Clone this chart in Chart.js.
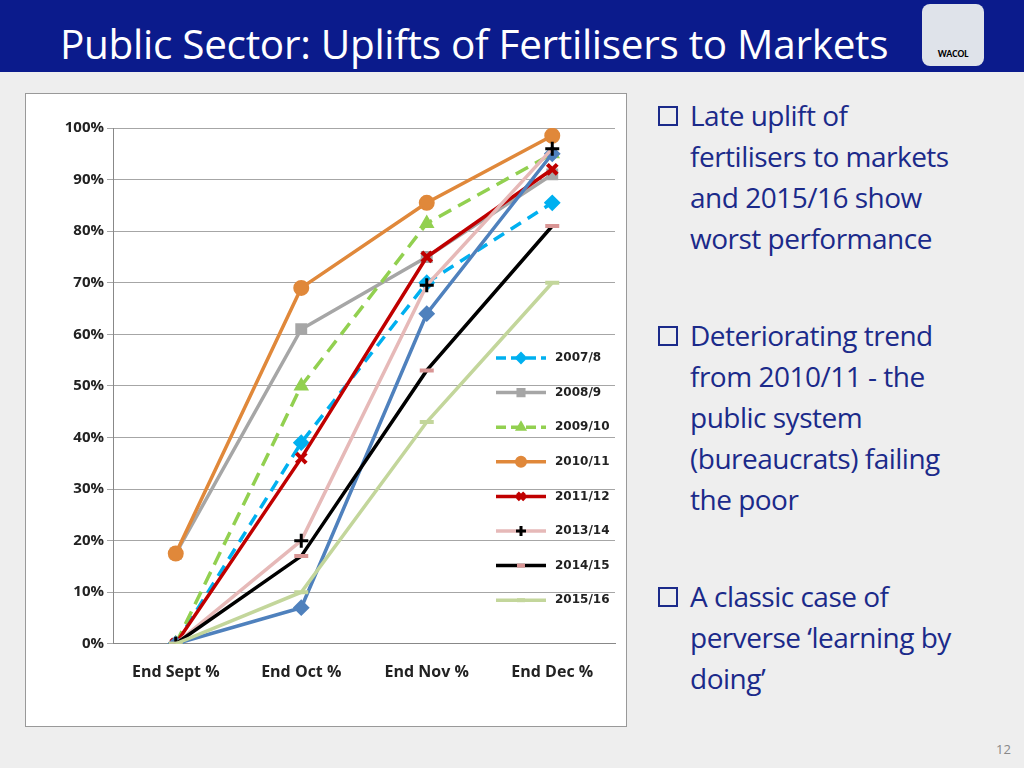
<!DOCTYPE html>
<html><head><meta charset="utf-8">
<script src="https://cdn.jsdelivr.net/npm/chart.js@4/dist/chart.umd.min.js"></script>
<style>
body{margin:0;width:1024px;height:768px;background:#eeeeee;font-family:Calibri,"Liberation Sans Narrow","Open Sans",sans-serif;overflow:hidden;position:relative}
#hdr{position:absolute;left:0;top:0;width:1024px;height:72px;background:#0b1b8c}
#hdr h1{margin:0;position:absolute;left:60px;top:16px;color:#fff;font-weight:normal;font-size:40.5px;font-family:"Open Sans",sans-serif;letter-spacing:-0.3px}
#logo{position:absolute;left:922px;top:4px;width:62px;height:62px;background:#dfe3ea;border-radius:8px;color:#000;font-size:10px;text-align:center;line-height:100px;font-weight:bold}
#box{position:absolute;left:25px;top:93px;width:600px;height:632px;background:#fff;border:1px solid #999}
#txt{position:absolute;left:655px;top:95px;width:365px;color:#1b2a8a;font-family:"Open Sans",sans-serif;font-size:28px;line-height:41px;letter-spacing:-0.5px;white-space:nowrap}
#txt p{margin:0 0 56px 0;padding-left:35px;position:relative}
#txt p:before{content:"";position:absolute;left:3px;top:11px;width:16px;height:16px;border:2px solid #1b2a8a}
#pg{position:absolute;left:996px;top:740px;color:#888;font-size:13px;font-family:"Open Sans",sans-serif}
</style></head><body>
<div id="hdr"><h1>Public Sector: Uplifts of Fertilisers to Markets</h1><div id="logo">WACOL</div></div>
<div id="box"><canvas id="c" width="600" height="632"></canvas></div>
<div id="txt">
<p>Late uplift of<br>fertilisers to markets<br>and 2015/16 show<br>worst performance</p>
<p>Deteriorating trend<br>from 2010/11 - the<br>public system<br>(bureaucrats) failing<br>the poor</p>
<p>A classic case of<br>perverse ‘learning by<br>doing’</p>
</div>
<div id="pg">12</div>
<script>
const categories = ["End Sept %", "End Oct %", "End Nov %", "End Dec %"]
const yTicks = [0, 10, 20, 30, 40, 50, 60, 70, 80, 90, 100]
const s2007 = [0, 39, 70, 85.5]
const s2008 = [17.5, 61, 75, 91]
const s2009 = [0, 50, 81.5, 95]
const s2010 = [17.5, 69, 85.5, 98.5]
const s2011 = [0, 36, 75, 92]
const s2012 = [0, 7, 64, 95]
const s2013 = [0, 20, 69.5, 96]
const s2014 = [0, 17, 53, 81]
const s2015 = [0, 10, 43, 70]

function ds(label, data, color, style, opts) {
  return Object.assign({
    label, data, borderColor: color, backgroundColor: color,
    pointStyle: style, pointRadius: 7, borderWidth: 3.5, tension: 0,
    pointBorderColor: color, pointBorderWidth: 2, legend: true,
  }, opts || {})
}

const datasets = [
  ds("2015/16", s2015, "#c3d69b", "line", { pointBorderWidth: 4 }),
  ds("2014/15", s2014, "#000000", "line", { pointBorderColor: "#d99594", pointBorderWidth: 4 }),
  ds("2013/14", s2013, "#e6b9b8", "cross", { pointBorderColor: "#000", pointBackgroundColor: "#000", pointBorderWidth: 3 }),
  ds("2012/13", s2012, "#4f81bd", "rectRot", { pointBorderColor: "#4f81bd", legend: false }),
  ds("2011/12", s2011, "#c00000", "crossRot", { pointBorderWidth: 4 }),
  ds("2010/11", s2010, "#e0883a", "circle"),
  ds("2009/10", s2009, "#92d050", "triangle", { borderDash: [14, 8] }),
  ds("2008/9", s2008, "#a6a6a6", "rect"),
  ds("2007/8", s2007, "#00b0f0", "rectRot", { borderDash: [12, 8] }),
]

const legendPlugin = {
  id: "sideLegend",
  afterDraw(chart) {
    const { ctx } = chart
    const items = chart.data.datasets.filter((d) => d.legend).reverse()
    ctx.save()
    items.forEach((d, i) => {
      const y = 264 + i * 34.6
      const x0 = 470, x1 = 520, xm = 495
      ctx.strokeStyle = d.borderColor
      ctx.lineWidth = 3.5
      ctx.setLineDash(d.borderDash ? [10, 5] : [])
      ctx.beginPath(); ctx.moveTo(x0, y); ctx.lineTo(x1, y); ctx.stroke()
      ctx.setLineDash([])
      ctx.fillStyle = d.pointBackgroundColor || d.pointBorderColor
      ctx.strokeStyle = d.pointBorderColor
      ctx.lineWidth = d.pointBorderWidth
      Chart.helpers.drawPoint(ctx, {
        pointStyle: d.pointStyle, radius: d.pointStyle === "line" ? 4 : 5,
        borderWidth: d.pointBorderWidth, rotation: 0,
      }, xm, y)
      ctx.fillStyle = "#222"
      ctx.font = "bold 12px 'DejaVu Sans'"
      ctx.textBaseline = "middle"
      ctx.fillText(d.label, 529, y)
    })
    ctx.restore()
  },
}

new Chart(document.getElementById("c"), {
  type: "line",
  data: { labels: categories, datasets },
  plugins: [legendPlugin],
  options: {
    responsive: false,
    animation: false,
    layout: { padding: { left: 8, right: 0, top: 34, bottom: 33 } },
    plugins: { legend: { display: false }, tooltip: { enabled: false } },
    scales: {
      x: {
        offset: true,
        grid: { display: false },
        border: { color: "#888" },
        ticks: { padding: 11, color: "#222", font: { size: 16, weight: "bold", family: "'Liberation Sans Narrow', 'Open Sans'" } },
      },
      y: {
        min: 0, max: 100,
        afterBuildTicks: (s) => { s.ticks = yTicks.map((v) => ({ value: v })) },
        afterFit: (s) => { s.width = 79 },
        grid: { color: "#a6a6a6", drawTicks: true, tickLength: 6 },
        border: { color: "#888" },
        ticks: { color: "#222", callback: (v) => v + "%", font: { size: 15, weight: "bold", family: "'Liberation Sans Narrow', 'Open Sans'" } },
      },
    },
  },
})
</script>
</body></html>
